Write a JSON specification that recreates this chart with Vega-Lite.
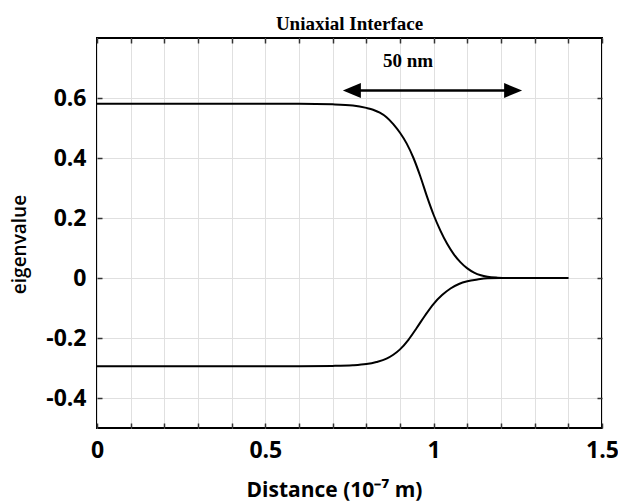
{
  "$schema": "https://vega.github.io/schema/vega-lite/v6.json",
  "width": 505,
  "height": 390,
  "autosize": {"type": "none"},
  "padding": {"left": 97, "top": 38, "right": 16, "bottom": 76},
  "background": "white",
  "title": {"text": "Uniaxial Interface", "font": "Liberation Serif", "fontSize": 19, "fontWeight": "bold", "color": "black", "anchor": "middle", "frame": "group", "offset": 10, "baseline": "alphabetic", "dy": 22},
  "config": {"view": {"stroke": "black", "strokeWidth": 2}},
  "datasets": {
    "curves": [
      {"series": "top", "x": 0, "y": 0.581},
      {"series": "top", "x": 0.6, "y": 0.581},
      {"series": "top", "x": 0.7, "y": 0.579},
      {"series": "top", "x": 0.76, "y": 0.575},
      {"series": "top", "x": 0.8, "y": 0.567},
      {"series": "top", "x": 0.82, "y": 0.561},
      {"series": "top", "x": 0.84, "y": 0.551},
      {"series": "top", "x": 0.86, "y": 0.536},
      {"series": "top", "x": 0.88, "y": 0.513},
      {"series": "top", "x": 0.9, "y": 0.484},
      {"series": "top", "x": 0.92, "y": 0.448},
      {"series": "top", "x": 0.94, "y": 0.4},
      {"series": "top", "x": 0.96, "y": 0.34},
      {"series": "top", "x": 0.98, "y": 0.272},
      {"series": "top", "x": 1.0, "y": 0.21},
      {"series": "top", "x": 1.02, "y": 0.158},
      {"series": "top", "x": 1.04, "y": 0.114},
      {"series": "top", "x": 1.06, "y": 0.079},
      {"series": "top", "x": 1.08, "y": 0.052},
      {"series": "top", "x": 1.1, "y": 0.032},
      {"series": "top", "x": 1.12, "y": 0.018},
      {"series": "top", "x": 1.14, "y": 0.009},
      {"series": "top", "x": 1.16, "y": 0.004},
      {"series": "top", "x": 1.19, "y": 0.001},
      {"series": "top", "x": 1.22, "y": 0},
      {"series": "top", "x": 1.4, "y": 0},
      {"series": "bottom", "x": 0, "y": -0.294},
      {"series": "bottom", "x": 0.6, "y": -0.294},
      {"series": "bottom", "x": 0.7, "y": -0.293},
      {"series": "bottom", "x": 0.76, "y": -0.291},
      {"series": "bottom", "x": 0.8, "y": -0.287},
      {"series": "bottom", "x": 0.83, "y": -0.28},
      {"series": "bottom", "x": 0.86, "y": -0.269},
      {"series": "bottom", "x": 0.88, "y": -0.256},
      {"series": "bottom", "x": 0.9, "y": -0.238},
      {"series": "bottom", "x": 0.925, "y": -0.206},
      {"series": "bottom", "x": 0.95, "y": -0.166},
      {"series": "bottom", "x": 0.975, "y": -0.124},
      {"series": "bottom", "x": 1.0, "y": -0.086},
      {"series": "bottom", "x": 1.025, "y": -0.057},
      {"series": "bottom", "x": 1.05, "y": -0.035},
      {"series": "bottom", "x": 1.075, "y": -0.02},
      {"series": "bottom", "x": 1.1, "y": -0.011},
      {"series": "bottom", "x": 1.13, "y": -0.005},
      {"series": "bottom", "x": 1.16, "y": -0.001},
      {"series": "bottom", "x": 1.2, "y": 0},
      {"series": "bottom", "x": 1.4, "y": 0}
    ],
    "arrow": [{"x": 0.757, "x2": 1.236, "y": 0.625}],
    "heads": [{"x": 0.757, "y": 0.625, "dir": "L"}, {"x": 1.236, "y": 0.625, "dir": "R"}],
    "label": [{"x": 0.924, "y": 0.702, "text": "50 nm"}]
  },
  "layer": [
    {
      "data": {"name": "curves"},
      "mark": {"type": "line", "color": "black", "strokeWidth": 2, "interpolate": "monotone"},
      "encoding": {
        "x": {"field": "x", "type": "quantitative", "scale": {"domain": [0, 1.5], "nice": false, "zero": false},
          "axis": {"orient": "bottom", "values": [0, 0.1, 0.2, 0.3, 0.4, 0.5, 0.6, 0.7, 0.8, 0.9, 1.0, 1.1, 1.2, 1.3, 1.4, 1.5],
            "labelExpr": "abs(datum.value*2 - round(datum.value*2)) < 0.001 ? toString(round(datum.value*10)/10) : ''",
            "grid": true, "gridColor": "#e0e0e0", "gridWidth": 1, "domain": false,
            "ticks": true, "tickSize": -5, "tickColor": "#333", "tickWidth": 1.5,
            "labelFont": "Open Sans", "labelFontSize": 23, "labelFontWeight": "bold", "labelColor": "black", "labelPadding": 16, "labelFlush": false, "labelOverlap": false,
            "title": "Distance (10⁻⁷ m)", "titleFont": "Open Sans", "titleFontSize": 21, "titleFontWeight": "bold", "titleColor": "black", "titlePadding": 17, "titleX": 237}},
        "y": {"field": "y", "type": "quantitative", "scale": {"domain": [-0.5, 0.8], "nice": false, "zero": false},
          "axis": {"orient": "left", "values": [-0.4, -0.2, 0, 0.2, 0.4, 0.6],
            "labelExpr": "toString(round(datum.value*10)/10)",
            "grid": true, "gridColor": "#e0e0e0", "gridWidth": 1, "domain": false,
            "ticks": true, "tickSize": -5, "tickColor": "#333", "tickWidth": 1.5,
            "labelFont": "Open Sans", "labelFontSize": 23, "labelFontWeight": "bold", "labelColor": "black", "labelPadding": 16, "labelOverlap": false,
            "title": "eigenvalue", "titleFont": "Open Sans", "titleFontSize": 19, "titleFontWeight": 600, "titleColor": "black", "titlePadding": 16, "titleY": 206}},
        "detail": {"field": "series"}
      }
    },
    {
      "data": {"name": "arrow"},
      "mark": {"type": "rule", "color": "black", "strokeWidth": 2.5},
      "encoding": {
        "x": {"field": "x", "type": "quantitative",
          "axis": {"orient": "top", "values": [0, 0.1, 0.2, 0.3, 0.4, 0.5, 0.6, 0.7, 0.8, 0.9, 1.0, 1.1, 1.2, 1.3, 1.4, 1.5], "labels": false, "grid": false, "domain": false, "ticks": true, "tickSize": -5, "tickColor": "#333", "tickWidth": 1.5, "title": null}},
        "x2": {"field": "x2"},
        "y": {"field": "y", "type": "quantitative",
          "axis": {"orient": "right", "values": [-0.4, -0.2, 0, 0.2, 0.4, 0.6], "labels": false, "grid": false, "domain": false, "ticks": true, "tickSize": -5, "tickColor": "#333", "tickWidth": 1.5, "title": null}}
      }
    },
    {
      "data": {"name": "heads"},
      "mark": {"type": "point", "filled": true, "color": "black", "opacity": 1, "size": 324},
      "encoding": {
        "x": {"field": "x", "type": "quantitative", "axis": null},
        "y": {"field": "y", "type": "quantitative", "axis": null},
        "shape": {"field": "dir", "type": "nominal", "legend": null, "scale": {"domain": ["L", "R"], "range": ["M-1,0L1,-0.83L1,0.83Z", "M1,0L-1,-0.83L-1,0.83Z"]}}
      }
    },
    {
      "data": {"name": "label"},
      "mark": {"type": "text", "font": "Liberation Serif", "fontSize": 19, "fontWeight": "bold", "color": "black", "align": "center", "baseline": "alphabetic"},
      "encoding": {
        "x": {"field": "x", "type": "quantitative", "axis": null},
        "y": {"field": "y", "type": "quantitative", "axis": null},
        "text": {"field": "text"}
      }
    }
  ],
  "resolve": {"axis": {"x": "independent", "y": "independent"}}
}
